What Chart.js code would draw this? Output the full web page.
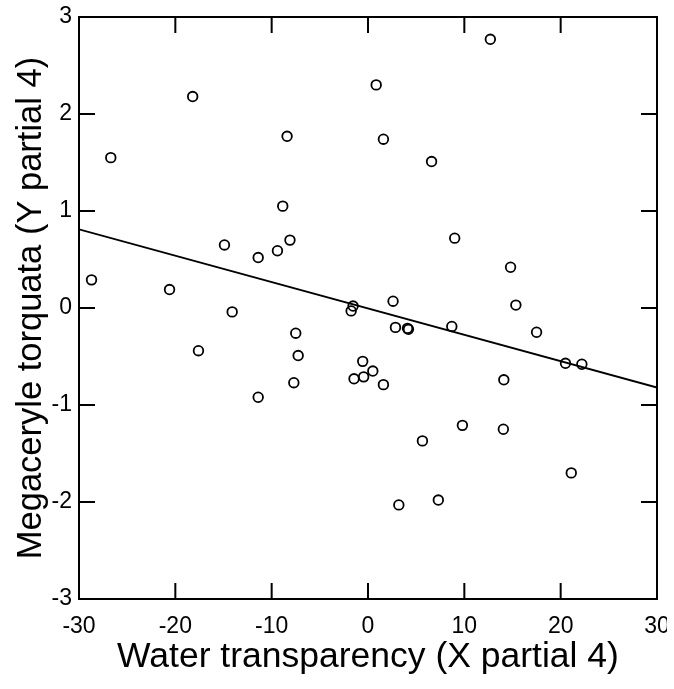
<!DOCTYPE html>
<html>
<head>
<meta charset="utf-8">
<script src="https://cdn.jsdelivr.net/npm/chart.js@4"></script>
<style>
  html, body { margin: 0; padding: 0; background: #fff; }
  #wrap { width: 667px; height: 689px; }
</style>
</head>
<body>
<div id="wrap"><canvas id="partialPlot" width="667" height="689"></canvas></div>
<script>
// partial residuals
var waterX = [-28.7, -26.7, -20.6, -18.2, -17.6, -14.9, -14.1, -11.4, -11.4, -9.4,
              -8.85, -8.4, -8.1, -7.7, -7.5, -7.25, -1.55, -1.75, -1.45, -0.55,
              -0.45, 0.5, 0.85, 1.6, 1.6, 2.6, 2.85, 4.1, 4.2, 3.2,
              5.65, 6.6, 7.3, 8.7, 9.0, 9.8, 12.7, 14.05, 14.1, 14.8,
              15.35, 17.5, 20.5, 21.1, 22.2];
var torquataY = [0.29, 1.55, 0.19, 2.18, -0.44, 0.65, -0.04, 0.52, -0.92, 0.59,
                 1.05, 1.77, 0.70, -0.77, -0.26, -0.49, 0.02, -0.03, -0.73, -0.55,
                 -0.71, -0.65, 2.30, 1.74, -0.79, 0.07, -0.20, -0.21, -0.22, -2.03,
                 -1.37, 1.51, -1.98, -0.19, 0.72, -1.21, 2.77, -1.25, -0.74, 0.42,
                 0.03, -0.25, -0.57, -1.70, -0.58];
// fitted line end points
var fitX = [-30, 30];
var fitY = [0.81, -0.82];

var FONT = "'Liberation Sans', Arial, sans-serif";
var TICK_FONT = "'Liberation Sans Narrow', 'Arial Narrow', 'Liberation Sans', Arial, sans-serif";

// frame and inward ticks on all four sides
var framePlugin = {
    id: 'frame',
    afterDatasetsDraw: function (chart) {
        var ctx = chart.ctx, a = chart.chartArea;
        var xs = chart.scales.x, ys = chart.scales.y;
        var len = 16;
        ctx.save();
        ctx.strokeStyle = '#000';
        ctx.lineWidth = 2;
        ctx.strokeRect(a.left, a.top, a.right - a.left, a.bottom - a.top);
        ctx.beginPath();
        xs.ticks.forEach(function (t) {
            var px = xs.getPixelForValue(t.value);
            ctx.moveTo(px, a.bottom); ctx.lineTo(px, a.bottom - len);
            ctx.moveTo(px, a.top); ctx.lineTo(px, a.top + len);
        });
        ys.ticks.forEach(function (t) {
            var py = ys.getPixelForValue(t.value);
            ctx.moveTo(a.left, py); ctx.lineTo(a.left + len, py);
            ctx.moveTo(a.right, py); ctx.lineTo(a.right - len, py);
        });
        ctx.stroke();
        ctx.restore();
    }
};

function noPad(s) {
    s.paddingLeft = 0; s.paddingRight = 0; s.paddingTop = 0; s.paddingBottom = 0;
}

var ctx = document.getElementById('partialPlot').getContext('2d');
var partialChart = new Chart(ctx, {
    type: 'scatter',
    data: {
        datasets: [{
            data: waterX.map(function (x, i) { return { x: x, y: torquataY[i] }; }),
            pointStyle: 'circle',
            pointRadius: 4.8,
            pointBorderWidth: 1.8,
            borderColor: '#000',
            backgroundColor: 'rgba(0,0,0,0)'
        }, {
            type: 'line',
            data: fitX.map(function (x, i) { return { x: x, y: fitY[i] }; }),
            borderColor: '#000',
            borderWidth: 1.8,
            pointRadius: 0,
            fill: false
        }]
    },
    options: {
        responsive: false,
        animation: false,
        layout: { autoPadding: false, padding: { top: 17, right: 10, left: 0, bottom: 0 } },
        plugins: { legend: { display: false }, tooltip: { enabled: false } },
        scales: {
            x: {
                type: 'linear',
                min: -30, max: 30,
                afterFit: function (s) { s.height = 90; noPad(s); },
                grid: { display: false, drawTicks: false },
                border: { display: false },
                ticks: { stepSize: 10, padding: 14, color: '#000', font: { family: TICK_FONT, size: 23 } },
                title: {
                    display: true,
                    text: 'Water transparency (X partial 4)',
                    color: '#000',
                    font: { family: FONT, size: 35.5 },
                    padding: { top: 0, bottom: 10 }
                }
            },
            y: {
                type: 'linear',
                min: -3, max: 3,
                afterFit: function (s) { s.width = 79; noPad(s); },
                grid: { display: false, drawTicks: false },
                border: { display: false },
                ticks: { stepSize: 1, padding: 7, color: '#000', font: { family: TICK_FONT, size: 23 } },
                title: {
                    display: true,
                    text: 'Megaceryle torquata (Y partial 4)',
                    color: '#000',
                    font: { family: FONT, size: 34.5 },
                    padding: { top: 11, bottom: 0 }
                }
            }
        }
    },
    plugins: [framePlugin]
});
</script>
</body>
</html>
